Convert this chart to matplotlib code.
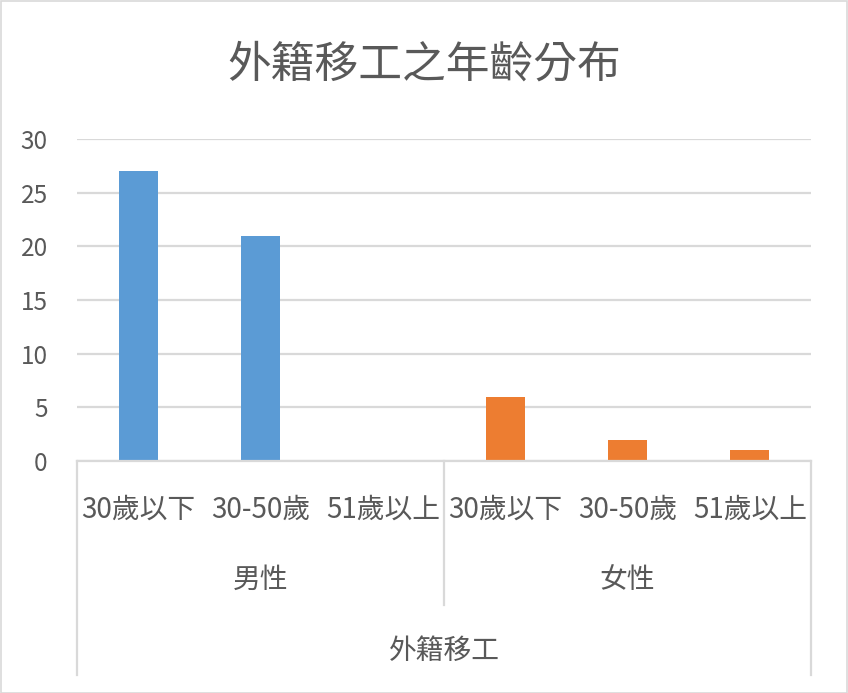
import matplotlib
matplotlib.use("Agg")
import matplotlib.pyplot as plt
from matplotlib.patches import Rectangle
from matplotlib.lines import Line2D
from matplotlib.transforms import blended_transform_factory, offset_copy

plt.rcParams['font.family'] = ['Noto Sans CJK TC', 'DejaVu Sans']

# data
ages = ["30歲以下", "30-50歲", "51歲以上"]
genders = ["男性", "女性"]
group_label = "外籍移工"
male_counts = [27, 21, 0]
female_counts = [6, 2, 1]

text_color = "#595959"
line_color = "#D9D9D9"
colors = ["#5B9BD5", "#ED7D31"]

W, H = 848, 693
fig = plt.figure(figsize=(W / 100, H / 100), dpi=100)

# plot area placed like the Excel chart
ax = fig.add_axes([77 / W, (H - 461) / H, (811 - 77) / W, (461 - 139) / H])

values = male_counts + female_counts
bar_colors = [colors[0]] * len(male_counts) + [colors[1]] * len(female_counts)
xs = list(range(len(values)))
ax.bar(xs, values, width=0.32, color=bar_colors, zorder=3)

ax.set_xlim(-0.5, len(values) - 0.5)
ax.set_ylim(0, 30)
ax.set_yticks(range(0, 31, 5))
ax.tick_params(axis="y", length=0, pad=21, labelsize=17.5, labelcolor=text_color)
ax.tick_params(axis="x", length=0, labelbottom=False)
ax.yaxis.grid(True, color=line_color, linewidth=1.6, zorder=0)
for s in ["top", "right", "left"]:
    ax.spines[s].set_visible(False)
ax.spines["bottom"].set_color(line_color)
ax.spines["bottom"].set_linewidth(1.6)
ax.spines["bottom"].set_zorder(4)

# multi-level category labels
trans = blended_transform_factory(ax.transData, ax.transAxes)
def below(px):
    return offset_copy(trans, fig=fig, x=0, y=-px * 72 / 100, units="points")

for i, lab in enumerate(ages * len(genders)):
    ax.text(i, 0, lab, transform=below(49), ha="center", va="center",
            fontsize=20, color=text_color)
for g, lab in enumerate(genders):
    ax.text(g * 3 + 1, 0, lab, transform=below(119), ha="center", va="center",
            fontsize=20, color=text_color)
ax.text((len(values) - 1) / 2, 0, group_label, transform=below(190),
        ha="center", va="center", fontsize=20, color=text_color)

# separator lines under the axis
for x, depth in [(-0.5, 214), (2.5, 144), (len(values) - 0.5, 214)]:
    ln = Line2D([x, x], [0, -depth / (461 - 139)], transform=trans,
                color=line_color, linewidth=1.6, clip_on=False)
    ax.add_line(ln)

fig.text(0.5, 1 - 65 / H, "外籍移工之年齡分布", ha="center", va="center",
         fontsize=31.5, fontweight="medium", color=text_color)

fig.patches.append(Rectangle((0.5 / W, 0.5 / H), 1 - 1.5 / W, 1 - 1.5 / H,
                             transform=fig.transFigure, fill=False,
                             edgecolor=line_color, linewidth=1.2))

fig.savefig("out.png", dpi=100)
